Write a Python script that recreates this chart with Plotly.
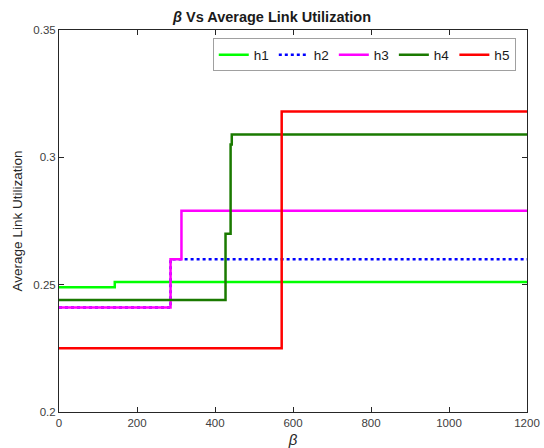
import plotly.graph_objects as go

# Step breakpoints (beta) and the utilization value that starts at each one
h1_beta = [0, 143, 1200]
h1_util = [0.249, 0.251, 0.251]

h2_beta = [0, 286, 1200]
h2_util = [0.241, 0.260, 0.260]

h3_beta = [0, 286, 314, 1200]
h3_util = [0.241, 0.260, 0.279, 0.279]

h4_beta = [0, 427, 440, 443, 1200]
h4_util = [0.244, 0.270, 0.305, 0.309, 0.309]

h5_beta = [0, 571, 1200]
h5_util = [0.225, 0.318, 0.318]

x_ticks = [0, 200, 400, 600, 800, 1000, 1200]
y_ticks = [0.2, 0.25, 0.3, 0.35]
y_tick_text = ["0.2", "0.25", "0.3", "0.35"]

series = [
    ("h1", h1_beta, h1_util, "#00ff00", "solid"),
    ("h2", h2_beta, h2_util, "#0000ff", "dot"),
    ("h3", h3_beta, h3_util, "#ff00ff", "solid"),
    ("h4", h4_beta, h4_util, "#1a7a00", "solid"),
    ("h5", h5_beta, h5_util, "#ff0000", "solid"),
]

fig = go.Figure()
for name, xs, ys, color, dash in series:
    fig.add_trace(go.Scatter(
        x=xs, y=ys, name=name, mode="lines",
        line=dict(color=color, width=2.5, dash=dash, shape="hv"),
    ))

axis_common = dict(
    showgrid=False, zeroline=False, showline=True, linecolor="#262626",
    linewidth=1, mirror="ticks", ticks="inside", ticklen=5,
    tickcolor="#262626", tickfont=dict(size=11.5, color="#404040"),
    automargin=False,
)

fig.update_layout(
    width=544, height=448,
    margin=dict(l=59, r=17, t=30, b=36),
    paper_bgcolor="white", plot_bgcolor="white",
    font=dict(family="Liberation Sans, Arial, sans-serif", color="#262626"),
    title=dict(
        text="<b><i>β</i> Vs Average Link Utilization</b>",
        x=0.5, xanchor="center", y=0.962, yanchor="middle",
        font=dict(size=14.5, color="#1a1a1a"),
    ),
    xaxis=dict(
        range=[0, 1200], tickvals=x_ticks,
        title=dict(text="<i>β</i>", font=dict(size=15, color="#262626"), standoff=6),
        **axis_common,
    ),
    yaxis=dict(
        range=[0.2, 0.35], tickvals=y_ticks, ticktext=y_tick_text,
        title=dict(text="Average Link Utilization", font=dict(size=13.5, color="#262626"), standoff=7),
        **axis_common,
    ),
    legend=dict(
        orientation="h", x=0.976, xanchor="right", y=0.978, yanchor="top",
        bgcolor="white", bordercolor="#a0a0a0", borderwidth=1,
        font=dict(size=13.5, color="#1a1a1a"),
        itemwidth=30, tracegroupgap=0,
    ),
    showlegend=True,
)

fig.write_html("out.html")
